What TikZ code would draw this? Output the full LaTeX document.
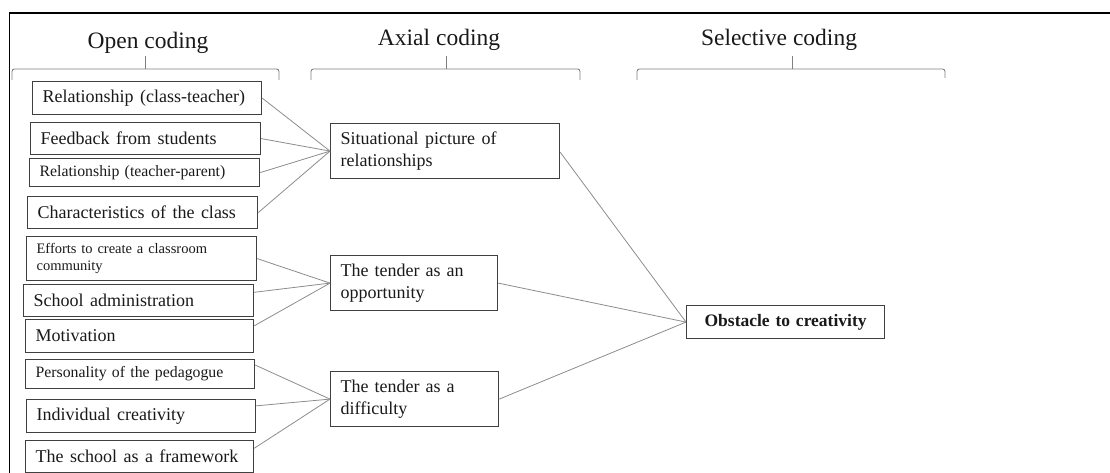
\documentclass[tikz,border=0pt]{standalone}
\usepackage{fontspec}
\setmainfont{Liberation Serif}
\usetikzlibrary{calc}

\tikzset{
  codebox/.style={draw=black!75, line width=1.2pt, anchor=north west,
    inner xsep=10pt, inner ysep=0pt, align=left, text=black!90,
    font=\fontsize{18}{21.5}\selectfont},
  widespaced/.style={execute at begin node={\spaceskip=0.36em plus 0.1em\relax}},
  smalltext/.style={font=\fontsize{15.8}{17}\selectfont},
  tinytext/.style={font=\fontsize{14.5}{16.5}\selectfont},
  heading/.style={anchor=base, text=black!90, inner sep=0pt,
    font=\fontsize{23.5}{28}\selectfont},
  link/.style={draw=black!45, line width=0.8pt},
  brace/.style={draw=black!50, line width=0.9pt, rounded corners=2.5pt},
  frameline/.style={draw=black, line width=1.8pt}
}

\begin{document}
\begin{tikzpicture}[x=1pt, y={(0pt,-1pt)}]
\useasboundingbox (0,0) rectangle (1110,473);

% outer frame (top and left edges only)
\draw[frameline] (9.5,473) -- (9.5,13) -- (1110,13);

% column headings
\node[heading] (hopen) at (148,49) {Open coding};
\node[heading] (haxial) at (439,46) {Axial coding};
\node[heading] (hsel) at (779,46) {Selective coding};

% braces under the headings
\draw[brace] (12,80) -- (12,69) -- (279,69) -- (279,80);
\draw[brace] (145,69) -- (145,56);
\draw[brace] (311,80) -- (311,69) -- (580,69) -- (580,80);
\draw[brace] (446,69) -- (446,56);
\draw[brace] (637,80) -- (637,69) -- (945,69) -- (945,78);
\draw[brace] (792,69) -- (792,56);

% open codes
\node[codebox, widespaced, text width=209pt, minimum height=33pt] (o1) at (32,81) {Relationship (class-teacher)};
\node[codebox, widespaced, text width=210pt, minimum height=32pt] (o2) at (30,122) {Feedback from students};
\node[codebox, smalltext, text width=210pt, minimum height=28pt] (o3) at (29,158) {Relationship (teacher-parent)};
\node[codebox, widespaced, text width=210pt, minimum height=32pt] (o4) at (27,196) {Characteristics of the class};
\node[codebox, tinytext, text width=210pt, minimum height=44pt] (o5) at (26,236) {Efforts to create a classroom\\community};
\node[codebox, widespaced, text width=210pt, minimum height=32pt] (o6) at (23,284) {School administration};
\node[codebox, text width=208pt, minimum height=33pt] (o7) at (25,319) {Motivation};
\node[codebox, smalltext, text width=209pt, minimum height=29pt] (o8) at (25,359) {Personality of the pedagogue};
\node[codebox, widespaced, text width=209pt, minimum height=33pt] (o9) at (26,399) {Individual creativity};
\node[codebox, widespaced, text width=208pt, minimum height=32pt] (o10) at (25,440) {The school as a framework};

% axial codes
\node[codebox, widespaced, text width=209pt, minimum height=55pt] (a1) at (330,123) {Situational picture of\\relationships};
\node[codebox, text width=147pt, minimum height=55pt] (a2) at (330,255) {The tender as an\\opportunity};
\node[codebox, text width=148pt, minimum height=55pt] (a3) at (330,371) {The tender as a\\difficulty};

% selective code
\node[codebox, align=center, inner xsep=0pt, text width=198pt, minimum height=33pt,
  font=\fontsize{17.5}{21}\selectfont\bfseries] (s1) at (686,305) {Obstacle to creativity};

% open -> axial
\draw[link] (o1.east) -- (a1.west);
\draw[link] (o2.east) -- (a1.west);
\draw[link] (o3.east) -- (a1.west);
\draw[link] (o4.east) -- (a1.west);
\draw[link] (o5.east) -- (a2.west);
\draw[link] ($(o6.north east)!0.25!(o6.south east)$) -- (a2.west);
\draw[link] ($(o7.north east)!0.2!(o7.south east)$) -- (a2.west);
\draw[link] ($(o8.north east)!0.2!(o8.south east)$) -- (a3.west);
\draw[link] ($(o9.north east)!0.2!(o9.south east)$) -- (a3.west);
\draw[link] ($(o10.north east)!0.25!(o10.south east)$) -- (a3.west);

% axial -> selective
\draw[link] ($(a1.north east)!0.52!(a1.south east)$) -- (s1.west);
\draw[link] (a2.east) -- (s1.west);
\draw[link] (a3.east) -- (s1.west);
\end{tikzpicture}
\end{document}
